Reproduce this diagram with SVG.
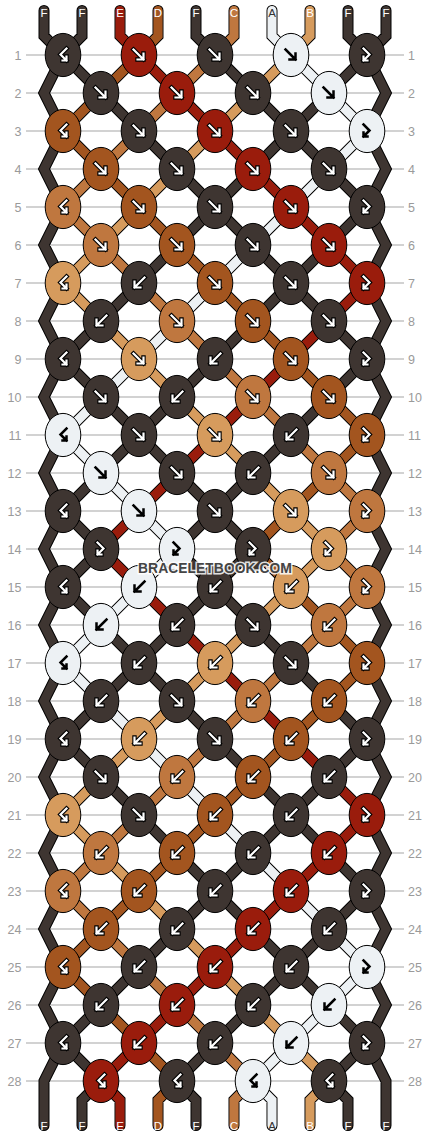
<svg xmlns="http://www.w3.org/2000/svg" xmlns:xlink="http://www.w3.org/1999/xlink" width="430" height="1136" viewBox="0 0 430 1136">
<style>
.rl{fill:#9a9a9a;font-family:"Liberation Sans",Arial,sans-serif;font-size:12.5px}
.sl{font-family:"Liberation Sans",Arial,sans-serif;font-size:11.5px;text-anchor:middle;fill:#fff}
.k{stroke:#000;stroke-width:1}
.cF{fill:#3e3531}.cE{fill:#9a1c0c}.cD{fill:#a3551f}.cC{fill:#bf773f}.cB{fill:#d69b5d}.cA{fill:#edf1f4}
.th{fill:none;stroke-linecap:round;stroke-linejoin:miter;stroke-width:9}
</style>
<defs>
<path id="pF" d="M-5.5,-5.5 L4.5,4.5 M4.5,-1.5 V4.5 H-1.5" fill="none"/>
<path id="pB" d="M5.5,-5.5 L-4.5,4.5 M-4.5,-1.5 V4.5 H1.5" fill="none"/>
<path id="pf" d="M-3.5,-6.5 L2.5,-0.5 L-3.5,5.5 M-3.5,1.5 V5.5 H0.5" fill="none"/>
<path id="pb" d="M3.5,-6.5 L-2.5,-0.5 L3.5,5.5 M3.5,1.5 V5.5 H-0.5" fill="none"/>
<g id="wF"><use href="#pF" stroke="#000" stroke-width="4.4" stroke-linecap="square"/><use href="#pF" stroke="#fff" stroke-width="2.2" stroke-linecap="square"/></g>
<g id="wB"><use href="#pB" stroke="#000" stroke-width="4.4" stroke-linecap="square"/><use href="#pB" stroke="#fff" stroke-width="2.2" stroke-linecap="square"/></g>
<g id="wf"><use href="#pf" stroke="#000" stroke-width="4.4" stroke-linecap="square"/><use href="#pf" stroke="#fff" stroke-width="2.2" stroke-linecap="square"/></g>
<g id="wb"><use href="#pb" stroke="#000" stroke-width="4.4" stroke-linecap="square"/><use href="#pb" stroke="#fff" stroke-width="2.2" stroke-linecap="square"/></g>
<use id="kF" href="#pF" stroke="#000" stroke-width="2.5" stroke-linecap="square"/>
<use id="kB" href="#pB" stroke="#000" stroke-width="2.5" stroke-linecap="square"/>
<use id="kf" href="#pf" stroke="#000" stroke-width="2.5" stroke-linecap="square"/>
<use id="kb" href="#pb" stroke="#000" stroke-width="2.5" stroke-linecap="square"/>
<ellipse id="ov" rx="17.8" ry="21.6"/>
<path id="net" d="M63,55 l38,38 38,-38 38,38 38,-38 38,38 38,-38 38,38 38,-38 M63,131 l38,38 38,-38 38,38 38,-38 38,38 38,-38 38,38 38,-38 M63,207 l38,38 38,-38 38,38 38,-38 38,38 38,-38 38,38 38,-38 M63,283 l38,38 38,-38 38,38 38,-38 38,38 38,-38 38,38 38,-38 M63,359 l38,38 38,-38 38,38 38,-38 38,38 38,-38 38,38 38,-38 M63,435 l38,38 38,-38 38,38 38,-38 38,38 38,-38 38,38 38,-38 M63,511 l38,38 38,-38 38,38 38,-38 38,38 38,-38 38,38 38,-38 M63,587 l38,38 38,-38 38,38 38,-38 38,38 38,-38 38,38 38,-38 M63,663 l38,38 38,-38 38,38 38,-38 38,38 38,-38 38,38 38,-38 M63,739 l38,38 38,-38 38,38 38,-38 38,38 38,-38 38,38 38,-38 M63,815 l38,38 38,-38 38,38 38,-38 38,38 38,-38 38,38 38,-38 M63,891 l38,38 38,-38 38,38 38,-38 38,38 38,-38 38,38 38,-38 M63,967 l38,38 38,-38 38,38 38,-38 38,38 38,-38 38,38 38,-38 M63,1043 l38,38 38,-38 38,38 38,-38 38,38 38,-38 38,38 38,-38 M63,131 l38,-38 38,38 38,-38 38,38 38,-38 38,38 38,-38 38,38 M63,207 l38,-38 38,38 38,-38 38,38 38,-38 38,38 38,-38 38,38 M63,283 l38,-38 38,38 38,-38 38,38 38,-38 38,38 38,-38 38,38 M63,359 l38,-38 38,38 38,-38 38,38 38,-38 38,38 38,-38 38,38 M63,435 l38,-38 38,38 38,-38 38,38 38,-38 38,38 38,-38 38,38 M63,511 l38,-38 38,38 38,-38 38,38 38,-38 38,38 38,-38 38,38 M63,587 l38,-38 38,38 38,-38 38,38 38,-38 38,38 38,-38 38,38 M63,663 l38,-38 38,38 38,-38 38,38 38,-38 38,38 38,-38 38,38 M63,739 l38,-38 38,38 38,-38 38,38 38,-38 38,38 38,-38 38,38 M63,815 l38,-38 38,38 38,-38 38,38 38,-38 38,38 38,-38 38,38 M63,891 l38,-38 38,38 38,-38 38,38 38,-38 38,38 38,-38 38,38 M63,967 l38,-38 38,38 38,-38 38,38 38,-38 38,38 38,-38 38,38 M63,1043 l38,-38 38,38 38,-38 38,38 38,-38 38,38 38,-38 38,38 M82,10.5 V36 L63,55 M120,10.5 V36 L139,55 M158,10.5 V36 L139,55 M196,10.5 V36 L215,55 M234,10.5 V36 L215,55 M272,10.5 V36 L291,55 M310,10.5 V36 L291,55 M348,10.5 V36 L367,55 M101,1081 L82,1100 V1125.5 M101,1081 L120,1100 V1125.5 M177,1081 L158,1100 V1125.5 M177,1081 L196,1100 V1125.5 M253,1081 L234,1100 V1125.5 M253,1081 L272,1100 V1125.5 M329,1081 L310,1100 V1125.5 M329,1081 L348,1100 V1125.5 M44,10.5 V36 L63,55 L44,93 L63,131 L44,169 L63,207 L44,245 L63,283 L44,321 L63,359 L44,397 L63,435 L44,473 L63,511 L44,549 L63,587 L44,625 L63,663 L44,701 L63,739 L44,777 L63,815 L44,853 L63,891 L44,929 L63,967 L44,1005 L63,1043 L44,1081 V1125.5 M386,10.5 V36 L367,55 L386,93 L367,131 L386,169 L367,207 L386,245 L367,283 L386,321 L367,359 L386,397 L367,435 L386,473 L367,511 L386,549 L367,587 L386,625 L367,663 L386,701 L367,739 L386,777 L367,815 L386,853 L367,891 L386,929 L367,967 L386,1005 L367,1043 L386,1081 V1125.5"/>
</defs>
<rect width="430" height="1136" fill="#fff"/>
<g id="grid">
<path d="M26,55H404M26,93H404M26,131H404M26,169H404M26,207H404M26,245H404M26,283H404M26,321H404M26,359H404M26,397H404M26,435H404M26,473H404M26,511H404M26,549H404M26,587H404M26,625H404M26,663H404M26,701H404M26,739H404M26,777H404M26,815H404M26,853H404M26,891H404M26,929H404M26,967H404M26,1005H404M26,1043H404M26,1081H404" stroke="#c4c4c4" stroke-width="1.4" fill="none"/>
<g class="rl" text-anchor="end">
<text x="21.5" y="59.5">1</text><text x="21.5" y="97.5">2</text><text x="21.5" y="135.5">3</text><text x="21.5" y="173.5">4</text><text x="21.5" y="211.5">5</text><text x="21.5" y="249.5">6</text><text x="21.5" y="287.5">7</text><text x="21.5" y="325.5">8</text><text x="21.5" y="363.5">9</text><text x="21.5" y="401.5">10</text><text x="21.5" y="439.5">11</text><text x="21.5" y="477.5">12</text><text x="21.5" y="515.5">13</text><text x="21.5" y="553.5">14</text><text x="21.5" y="591.5">15</text><text x="21.5" y="629.5">16</text><text x="21.5" y="667.5">17</text><text x="21.5" y="705.5">18</text><text x="21.5" y="743.5">19</text><text x="21.5" y="781.5">20</text><text x="21.5" y="819.5">21</text><text x="21.5" y="857.5">22</text><text x="21.5" y="895.5">23</text><text x="21.5" y="933.5">24</text><text x="21.5" y="971.5">25</text><text x="21.5" y="1009.5">26</text><text x="21.5" y="1047.5">27</text><text x="21.5" y="1085.5">28</text>
</g>
<g class="rl" text-anchor="start">
<text x="408" y="59.5">1</text><text x="408" y="97.5">2</text><text x="408" y="135.5">3</text><text x="408" y="173.5">4</text><text x="408" y="211.5">5</text><text x="408" y="249.5">6</text><text x="408" y="287.5">7</text><text x="408" y="325.5">8</text><text x="408" y="363.5">9</text><text x="408" y="401.5">10</text><text x="408" y="439.5">11</text><text x="408" y="477.5">12</text><text x="408" y="515.5">13</text><text x="408" y="553.5">14</text><text x="408" y="591.5">15</text><text x="408" y="629.5">16</text><text x="408" y="667.5">17</text><text x="408" y="705.5">18</text><text x="408" y="743.5">19</text><text x="408" y="781.5">20</text><text x="408" y="819.5">21</text><text x="408" y="857.5">22</text><text x="408" y="895.5">23</text><text x="408" y="933.5">24</text><text x="408" y="971.5">25</text><text x="408" y="1009.5">26</text><text x="408" y="1047.5">27</text><text x="408" y="1085.5">28</text>
</g>
</g>
<g id="connectors">
<use href="#net" fill="none" stroke="#000" stroke-width="11" stroke-linecap="round"/>
<use href="#net" fill="none" stroke="#3e3531" stroke-width="9" stroke-linecap="round"/>
<path class="th" stroke="#9a1c0c" d="M120,10.5 V36 L139,55 L367,283 L101,549 L367,815 L101,1081 L120,1100 V1125.5"/>
<path class="th" stroke="#a3551f" d="M158,10.5 V36 L139,55 L63,131 L367,435 L253,549 L367,663 L63,967 L177,1081 L158,1100 V1125.5"/>
<path class="th" stroke="#bf773f" d="M234,10.5 V36 L215,55 L63,207 L367,511 L329,549 L367,587 L63,891 L253,1081 L234,1100 V1125.5"/>
<path class="th" stroke="#d69b5d" d="M310,10.5 V36 L291,55 L63,283 L329,549 L63,815 L329,1081 L310,1100 V1125.5"/>
<path class="th" stroke="#edf1f4" d="M272,10.5 V36 L291,55 L367,131 L63,435 L177,549 L63,663 L367,967 L253,1081 L272,1100 V1125.5"/>
</g>
<g id="string-labels" class="sl">
<text x="44" y="16.8">F</text><text x="82" y="16.8">F</text><text x="120" y="16.8">E</text><text x="158" y="16.8">D</text><text x="196" y="16.8">F</text><text x="234" y="16.8">C</text><text x="272" y="16.8" fill="#333">A</text><text x="310" y="16.8">B</text><text x="348" y="16.8">F</text><text x="386" y="16.8">F</text>
<text x="44" y="1129.5">F</text><text x="82" y="1129.5">F</text><text x="120" y="1129.5">E</text><text x="158" y="1129.5">D</text><text x="196" y="1129.5">F</text><text x="234" y="1129.5">C</text><text x="272" y="1129.5" fill="#333">A</text><text x="310" y="1129.5">B</text><text x="348" y="1129.5">F</text><text x="386" y="1129.5">F</text>
</g>
<g id="knots">
<g id="r1k1" transform="translate(63,55)"><use href="#ov" class="k cF"/><use href="#wb"/></g>
<g id="r1k2" transform="translate(139,55)"><use href="#ov" class="k cE"/><use href="#wF"/></g>
<g id="r1k3" transform="translate(215,55)"><use href="#ov" class="k cF"/><use href="#wF"/></g>
<g id="r1k4" transform="translate(291,55)"><use href="#ov" class="k cA"/><use href="#kF"/></g>
<g id="r1k5" transform="translate(367,55)"><use href="#ov" class="k cF"/><use href="#wf"/></g>
<g id="r2k1" transform="translate(101,93)"><use href="#ov" class="k cF"/><use href="#wF"/></g>
<g id="r2k2" transform="translate(177,93)"><use href="#ov" class="k cE"/><use href="#wF"/></g>
<g id="r2k3" transform="translate(253,93)"><use href="#ov" class="k cF"/><use href="#wF"/></g>
<g id="r2k4" transform="translate(329,93)"><use href="#ov" class="k cA"/><use href="#kF"/></g>
<g id="r3k1" transform="translate(63,131)"><use href="#ov" class="k cD"/><use href="#wb"/></g>
<g id="r3k2" transform="translate(139,131)"><use href="#ov" class="k cF"/><use href="#wF"/></g>
<g id="r3k3" transform="translate(215,131)"><use href="#ov" class="k cE"/><use href="#wF"/></g>
<g id="r3k4" transform="translate(291,131)"><use href="#ov" class="k cF"/><use href="#wF"/></g>
<g id="r3k5" transform="translate(367,131)"><use href="#ov" class="k cA"/><use href="#kf"/></g>
<g id="r4k1" transform="translate(101,169)"><use href="#ov" class="k cD"/><use href="#wF"/></g>
<g id="r4k2" transform="translate(177,169)"><use href="#ov" class="k cF"/><use href="#wF"/></g>
<g id="r4k3" transform="translate(253,169)"><use href="#ov" class="k cE"/><use href="#wF"/></g>
<g id="r4k4" transform="translate(329,169)"><use href="#ov" class="k cF"/><use href="#wF"/></g>
<g id="r5k1" transform="translate(63,207)"><use href="#ov" class="k cC"/><use href="#wb"/></g>
<g id="r5k2" transform="translate(139,207)"><use href="#ov" class="k cD"/><use href="#wF"/></g>
<g id="r5k3" transform="translate(215,207)"><use href="#ov" class="k cF"/><use href="#wF"/></g>
<g id="r5k4" transform="translate(291,207)"><use href="#ov" class="k cE"/><use href="#wF"/></g>
<g id="r5k5" transform="translate(367,207)"><use href="#ov" class="k cF"/><use href="#wf"/></g>
<g id="r6k1" transform="translate(101,245)"><use href="#ov" class="k cC"/><use href="#wF"/></g>
<g id="r6k2" transform="translate(177,245)"><use href="#ov" class="k cD"/><use href="#wF"/></g>
<g id="r6k3" transform="translate(253,245)"><use href="#ov" class="k cF"/><use href="#wF"/></g>
<g id="r6k4" transform="translate(329,245)"><use href="#ov" class="k cE"/><use href="#wF"/></g>
<g id="r7k1" transform="translate(63,283)"><use href="#ov" class="k cB"/><use href="#wb"/></g>
<g id="r7k2" transform="translate(139,283)"><use href="#ov" class="k cF"/><use href="#wB"/></g>
<g id="r7k3" transform="translate(215,283)"><use href="#ov" class="k cD"/><use href="#wF"/></g>
<g id="r7k4" transform="translate(291,283)"><use href="#ov" class="k cF"/><use href="#wF"/></g>
<g id="r7k5" transform="translate(367,283)"><use href="#ov" class="k cE"/><use href="#wf"/></g>
<g id="r8k1" transform="translate(101,321)"><use href="#ov" class="k cF"/><use href="#wB"/></g>
<g id="r8k2" transform="translate(177,321)"><use href="#ov" class="k cC"/><use href="#wF"/></g>
<g id="r8k3" transform="translate(253,321)"><use href="#ov" class="k cD"/><use href="#wF"/></g>
<g id="r8k4" transform="translate(329,321)"><use href="#ov" class="k cF"/><use href="#wF"/></g>
<g id="r9k1" transform="translate(63,359)"><use href="#ov" class="k cF"/><use href="#wb"/></g>
<g id="r9k2" transform="translate(139,359)"><use href="#ov" class="k cB"/><use href="#wF"/></g>
<g id="r9k3" transform="translate(215,359)"><use href="#ov" class="k cF"/><use href="#wB"/></g>
<g id="r9k4" transform="translate(291,359)"><use href="#ov" class="k cD"/><use href="#wF"/></g>
<g id="r9k5" transform="translate(367,359)"><use href="#ov" class="k cF"/><use href="#wf"/></g>
<g id="r10k1" transform="translate(101,397)"><use href="#ov" class="k cF"/><use href="#wF"/></g>
<g id="r10k2" transform="translate(177,397)"><use href="#ov" class="k cF"/><use href="#wB"/></g>
<g id="r10k3" transform="translate(253,397)"><use href="#ov" class="k cC"/><use href="#wF"/></g>
<g id="r10k4" transform="translate(329,397)"><use href="#ov" class="k cD"/><use href="#wF"/></g>
<g id="r11k1" transform="translate(63,435)"><use href="#ov" class="k cA"/><use href="#kb"/></g>
<g id="r11k2" transform="translate(139,435)"><use href="#ov" class="k cF"/><use href="#wF"/></g>
<g id="r11k3" transform="translate(215,435)"><use href="#ov" class="k cB"/><use href="#wF"/></g>
<g id="r11k4" transform="translate(291,435)"><use href="#ov" class="k cF"/><use href="#wB"/></g>
<g id="r11k5" transform="translate(367,435)"><use href="#ov" class="k cD"/><use href="#wf"/></g>
<g id="r12k1" transform="translate(101,473)"><use href="#ov" class="k cA"/><use href="#kF"/></g>
<g id="r12k2" transform="translate(177,473)"><use href="#ov" class="k cF"/><use href="#wF"/></g>
<g id="r12k3" transform="translate(253,473)"><use href="#ov" class="k cF"/><use href="#wB"/></g>
<g id="r12k4" transform="translate(329,473)"><use href="#ov" class="k cC"/><use href="#wF"/></g>
<g id="r13k1" transform="translate(63,511)"><use href="#ov" class="k cF"/><use href="#wb"/></g>
<g id="r13k2" transform="translate(139,511)"><use href="#ov" class="k cA"/><use href="#kF"/></g>
<g id="r13k3" transform="translate(215,511)"><use href="#ov" class="k cF"/><use href="#wF"/></g>
<g id="r13k4" transform="translate(291,511)"><use href="#ov" class="k cB"/><use href="#wF"/></g>
<g id="r13k5" transform="translate(367,511)"><use href="#ov" class="k cC"/><use href="#wf"/></g>
<g id="r14k1" transform="translate(101,549)"><use href="#ov" class="k cF"/><use href="#wf"/></g>
<g id="r14k2" transform="translate(177,549)"><use href="#ov" class="k cA"/><use href="#kf"/></g>
<g id="r14k3" transform="translate(253,549)"><use href="#ov" class="k cF"/><use href="#wf"/></g>
<g id="r14k4" transform="translate(329,549)"><use href="#ov" class="k cB"/><use href="#wf"/></g>
<g id="r15k1" transform="translate(63,587)"><use href="#ov" class="k cF"/><use href="#wb"/></g>
<g id="r15k2" transform="translate(139,587)"><use href="#ov" class="k cA"/><use href="#kB"/></g>
<g id="r15k3" transform="translate(215,587)"><use href="#ov" class="k cF"/><use href="#wB"/></g>
<g id="r15k4" transform="translate(291,587)"><use href="#ov" class="k cB"/><use href="#wB"/></g>
<g id="r15k5" transform="translate(367,587)"><use href="#ov" class="k cC"/><use href="#wf"/></g>
<g id="r16k1" transform="translate(101,625)"><use href="#ov" class="k cA"/><use href="#kB"/></g>
<g id="r16k2" transform="translate(177,625)"><use href="#ov" class="k cF"/><use href="#wB"/></g>
<g id="r16k3" transform="translate(253,625)"><use href="#ov" class="k cF"/><use href="#wF"/></g>
<g id="r16k4" transform="translate(329,625)"><use href="#ov" class="k cC"/><use href="#wB"/></g>
<g id="r17k1" transform="translate(63,663)"><use href="#ov" class="k cA"/><use href="#kb"/></g>
<g id="r17k2" transform="translate(139,663)"><use href="#ov" class="k cF"/><use href="#wB"/></g>
<g id="r17k3" transform="translate(215,663)"><use href="#ov" class="k cB"/><use href="#wB"/></g>
<g id="r17k4" transform="translate(291,663)"><use href="#ov" class="k cF"/><use href="#wF"/></g>
<g id="r17k5" transform="translate(367,663)"><use href="#ov" class="k cD"/><use href="#wf"/></g>
<g id="r18k1" transform="translate(101,701)"><use href="#ov" class="k cF"/><use href="#wB"/></g>
<g id="r18k2" transform="translate(177,701)"><use href="#ov" class="k cF"/><use href="#wF"/></g>
<g id="r18k3" transform="translate(253,701)"><use href="#ov" class="k cC"/><use href="#wB"/></g>
<g id="r18k4" transform="translate(329,701)"><use href="#ov" class="k cD"/><use href="#wB"/></g>
<g id="r19k1" transform="translate(63,739)"><use href="#ov" class="k cF"/><use href="#wb"/></g>
<g id="r19k2" transform="translate(139,739)"><use href="#ov" class="k cB"/><use href="#wB"/></g>
<g id="r19k3" transform="translate(215,739)"><use href="#ov" class="k cF"/><use href="#wF"/></g>
<g id="r19k4" transform="translate(291,739)"><use href="#ov" class="k cD"/><use href="#wB"/></g>
<g id="r19k5" transform="translate(367,739)"><use href="#ov" class="k cF"/><use href="#wf"/></g>
<g id="r20k1" transform="translate(101,777)"><use href="#ov" class="k cF"/><use href="#wF"/></g>
<g id="r20k2" transform="translate(177,777)"><use href="#ov" class="k cC"/><use href="#wB"/></g>
<g id="r20k3" transform="translate(253,777)"><use href="#ov" class="k cD"/><use href="#wB"/></g>
<g id="r20k4" transform="translate(329,777)"><use href="#ov" class="k cF"/><use href="#wB"/></g>
<g id="r21k1" transform="translate(63,815)"><use href="#ov" class="k cB"/><use href="#wb"/></g>
<g id="r21k2" transform="translate(139,815)"><use href="#ov" class="k cF"/><use href="#wF"/></g>
<g id="r21k3" transform="translate(215,815)"><use href="#ov" class="k cD"/><use href="#wB"/></g>
<g id="r21k4" transform="translate(291,815)"><use href="#ov" class="k cF"/><use href="#wB"/></g>
<g id="r21k5" transform="translate(367,815)"><use href="#ov" class="k cE"/><use href="#wf"/></g>
<g id="r22k1" transform="translate(101,853)"><use href="#ov" class="k cC"/><use href="#wB"/></g>
<g id="r22k2" transform="translate(177,853)"><use href="#ov" class="k cD"/><use href="#wB"/></g>
<g id="r22k3" transform="translate(253,853)"><use href="#ov" class="k cF"/><use href="#wB"/></g>
<g id="r22k4" transform="translate(329,853)"><use href="#ov" class="k cE"/><use href="#wB"/></g>
<g id="r23k1" transform="translate(63,891)"><use href="#ov" class="k cC"/><use href="#wb"/></g>
<g id="r23k2" transform="translate(139,891)"><use href="#ov" class="k cD"/><use href="#wB"/></g>
<g id="r23k3" transform="translate(215,891)"><use href="#ov" class="k cF"/><use href="#wB"/></g>
<g id="r23k4" transform="translate(291,891)"><use href="#ov" class="k cE"/><use href="#wB"/></g>
<g id="r23k5" transform="translate(367,891)"><use href="#ov" class="k cF"/><use href="#wf"/></g>
<g id="r24k1" transform="translate(101,929)"><use href="#ov" class="k cD"/><use href="#wB"/></g>
<g id="r24k2" transform="translate(177,929)"><use href="#ov" class="k cF"/><use href="#wB"/></g>
<g id="r24k3" transform="translate(253,929)"><use href="#ov" class="k cE"/><use href="#wB"/></g>
<g id="r24k4" transform="translate(329,929)"><use href="#ov" class="k cF"/><use href="#wB"/></g>
<g id="r25k1" transform="translate(63,967)"><use href="#ov" class="k cD"/><use href="#wb"/></g>
<g id="r25k2" transform="translate(139,967)"><use href="#ov" class="k cF"/><use href="#wB"/></g>
<g id="r25k3" transform="translate(215,967)"><use href="#ov" class="k cE"/><use href="#wB"/></g>
<g id="r25k4" transform="translate(291,967)"><use href="#ov" class="k cF"/><use href="#wB"/></g>
<g id="r25k5" transform="translate(367,967)"><use href="#ov" class="k cA"/><use href="#kf"/></g>
<g id="r26k1" transform="translate(101,1005)"><use href="#ov" class="k cF"/><use href="#wB"/></g>
<g id="r26k2" transform="translate(177,1005)"><use href="#ov" class="k cE"/><use href="#wB"/></g>
<g id="r26k3" transform="translate(253,1005)"><use href="#ov" class="k cF"/><use href="#wB"/></g>
<g id="r26k4" transform="translate(329,1005)"><use href="#ov" class="k cA"/><use href="#kB"/></g>
<g id="r27k1" transform="translate(63,1043)"><use href="#ov" class="k cF"/><use href="#wb"/></g>
<g id="r27k2" transform="translate(139,1043)"><use href="#ov" class="k cE"/><use href="#wB"/></g>
<g id="r27k3" transform="translate(215,1043)"><use href="#ov" class="k cF"/><use href="#wB"/></g>
<g id="r27k4" transform="translate(291,1043)"><use href="#ov" class="k cA"/><use href="#kB"/></g>
<g id="r27k5" transform="translate(367,1043)"><use href="#ov" class="k cF"/><use href="#wf"/></g>
<g id="r28k1" transform="translate(101,1081)"><use href="#ov" class="k cE"/><use href="#wb"/></g>
<g id="r28k2" transform="translate(177,1081)"><use href="#ov" class="k cF"/><use href="#wb"/></g>
<g id="r28k3" transform="translate(253,1081)"><use href="#ov" class="k cA"/><use href="#kb"/></g>
<g id="r28k4" transform="translate(329,1081)"><use href="#ov" class="k cF"/><use href="#wb"/></g>
</g>
<text id="watermark" x="215" y="572.5" text-anchor="middle" font-family="'Liberation Sans',Arial,sans-serif" font-weight="bold" font-size="14" fill="#454545" stroke="#fff" stroke-opacity="0.85" stroke-width="3" paint-order="stroke" textLength="154">BRACELETBOOK.COM</text>
</svg>
